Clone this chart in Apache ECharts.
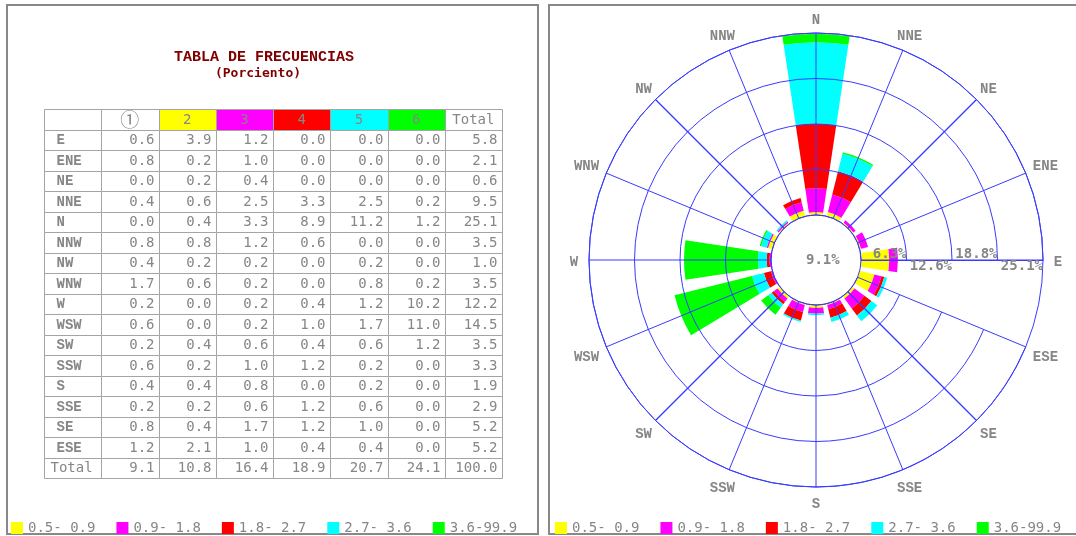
<!DOCTYPE html>
<html>
<head>
<meta charset="utf-8">
<script src="https://cdn.jsdelivr.net/npm/echarts@6/dist/echarts.min.js"></script>
<style>
  html, body { margin: 0; padding: 0; background: #ffffff; }
  #chart { width: 1076px; height: 536px; }
</style>
</head>
<body>
<div id="chart"></div>
<script>
// Wind directions, counter-clockwise from East (table row order)
const directions = ['E', 'ENE', 'NE', 'NNE', 'N', 'NNW', 'NW', 'WNW', 'W', 'WSW', 'SW', 'SSW', 'S', 'SSE', 'SE', 'ESE'];

// Frequency (%) per speed class, one value per direction
const class1 = [0.6, 0.8, 0.0, 0.4, 0.0, 0.8, 0.4, 1.7, 0.2, 0.6, 0.2, 0.6, 0.4, 0.2, 0.8, 1.2];
const class2 = [3.9, 0.2, 0.2, 0.6, 0.4, 0.8, 0.2, 0.6, 0.0, 0.0, 0.4, 0.2, 0.4, 0.2, 0.4, 2.1];
const class3 = [1.2, 1.0, 0.4, 2.5, 3.3, 1.2, 0.2, 0.2, 0.2, 0.2, 0.6, 1.0, 0.8, 0.6, 1.7, 1.0];
const class4 = [0.0, 0.0, 0.0, 3.3, 8.9, 0.6, 0.0, 0.0, 0.4, 1.0, 0.4, 1.2, 0.0, 1.2, 1.2, 0.4];
const class5 = [0.0, 0.0, 0.0, 2.5, 11.2, 0.0, 0.2, 0.8, 1.2, 1.7, 0.6, 0.2, 0.2, 0.6, 1.0, 0.4];
const class6 = [0.0, 0.0, 0.0, 0.2, 1.2, 0.0, 0.0, 0.2, 10.2, 11.0, 1.2, 0.0, 0.0, 0.0, 0.0, 0.0];
const dirTotals = [5.8, 2.1, 0.6, 9.5, 25.1, 3.5, 1.0, 3.5, 12.2, 14.5, 3.5, 3.3, 1.9, 2.9, 5.2, 5.2];
const classTotals = [9.1, 10.8, 16.4, 18.9, 20.7, 24.1, 100.0];

// Headers and labels
const classHeaders = ['①', '2', '3', '4', '5', '6', 'Total'];
const speedClasses = ['0.5- 0.9', '0.9- 1.8', '1.8- 2.7', '2.7- 3.6', '3.6-99.9'];
const ringLabels = ['6.3%', '12.6%', '18.8%', '25.1%'];
const calmLabel = '9.1%';
const roseMax = 25.1;

// Styles
const classColors = ['#ffff00', '#ff00ff', '#ff0000', '#00ffff', '#00ff00'];
const BLUE = '#3a3aff';
const GRAY = '#868686';
const ROSE_CX = 816, ROSE_CY = 260;
const MONO = '"DejaVu Sans Mono", "Liberation Mono", monospace';
const SERIF_MONO = '"Liberation Mono", "DejaVu Sans Mono", monospace';

const classCols = [class1, class2, class3, class4, class5, class6];
const roseCols = [class2, class3, class4, class5, class6];

// Table cells: column 0 = row label, 1..6 = classes, 7 = total; row 0 = header, 17 = totals
const NCOL = 8, NROW = directions.length + 2;
const cells = [];
for (let r = 0; r < NROW; r++) for (let c = 0; c < NCOL; c++) cells.push([c, r]);

function cellText(c, r) {
  if (r === 0) return c === 0 ? '' : classHeaders[c - 1];
  if (r === NROW - 1) return c === 0 ? 'Total' : classTotals[c - 1].toFixed(1);
  if (c === 0) return directions[r - 1];
  if (c === NCOL - 1) return dirTotals[r - 1].toFixed(1);
  return classCols[c - 1][r - 1].toFixed(1);
}

function renderCell(params, api) {
  const c = api.value(0), r = api.value(1);
  const p = api.coord([c, r]);
  const sz = api.size([1, 1]);
  const x0 = Math.round(p[0] - sz[0] / 2) + 0.5;
  const y0 = Math.round(p[1] - sz[1] / 2) + 0.5;
  const w = Math.round(p[0] + sz[0] / 2) - Math.round(p[0] - sz[0] / 2);
  const h = Math.round(p[1] + sz[1] / 2) - Math.round(p[1] - sz[1] / 2);
  const fill = (r === 0 && c >= 2 && c <= 6) ? classColors[c - 2] : '#ffffff';
  let tx, align, font;
  if (r === 0) {
    tx = p[0]; align = 'center';
    font = c === 1 ? '19px "Noto Sans CJK JP", "DejaVu Sans", sans-serif' : '14px ' + MONO;
  } else if (c === 0) {
    tx = x0 + (r === NROW - 1 ? 6 : 12); align = 'left';
    font = r === NROW - 1 ? '14px ' + MONO : 'bold 14px ' + SERIF_MONO;
  } else {
    tx = x0 + w - 5; align = 'right'; font = '14px ' + MONO;
  }
  return {
    type: 'group',
    children: [
      { type: 'rect', shape: { x: x0, y: y0, width: w, height: h },
        style: { fill: fill, stroke: '#a4a4a4', lineWidth: 1 } },
      { type: 'text', style: { text: cellText(c, r), x: tx, y: p[1] + 1, align: align,
        verticalAlign: 'middle', fill: GRAY, font: font } }
    ]
  };
}

// Direction spoke (calm circle to outer ring) plus its compass label
function renderSpoke(params, api) {
  const a = api.value(1);
  const name = directions[a];
  const p0 = api.coord([0, a]);
  const p1 = api.coord([roseMax, a]);
  const cs = params.coordSys;
  const ux = (p1[0] - cs.cx) / cs.r, uy = (p1[1] - cs.cy) / cs.r;
  const extra = Math.max(0, name.length * 4.3 - 6) * Math.abs(ux);
  const lr = cs.r + 15 + extra;
  // 45-degree spokes get a touch more weight so they read as solid blue
  const diagonal = a % 4 === 2;
  return {
    type: 'group',
    children: [
      { type: 'line', shape: { x1: p0[0], y1: p0[1], x2: p1[0], y2: p1[1] },
        style: { stroke: BLUE, lineWidth: diagonal ? 1.3 : 1 } },
      { type: 'text', style: { text: name, x: cs.cx + ux * lr, y: cs.cy + uy * lr + 2,
        align: 'center', verticalAlign: 'middle', fill: GRAY, font: 'bold 14px ' + SERIF_MONO } }
    ]
  };
}

const legendCommon = {
  orient: 'horizontal', top: 521, padding: 0, itemWidth: 12, itemHeight: 12, itemGap: 21,
  icon: 'rect', selectedMode: false, data: speedClasses,
  textStyle: { color: GRAY, fontFamily: MONO, fontSize: 14 }
};

const roseSeries = roseCols.map((vals, i) => ({
  name: speedClasses[i],
  type: 'bar',
  coordinateSystem: 'polar',
  stack: 'rose',
  barWidth: '76%',
  data: vals,
  itemStyle: { color: classColors[i] },
  silent: true,
  z: 2
}));

const option = {
  animation: false,
  backgroundColor: '#ffffff',
  color: classColors,
  graphic: [
    { type: 'rect', shape: { x: 7, y: 5, width: 531, height: 529 },
      style: { fill: 'none', stroke: '#888888', lineWidth: 2 }, silent: true },
    { type: 'rect', shape: { x: 549, y: 5, width: 540, height: 529 },
      style: { fill: 'none', stroke: '#888888', lineWidth: 2 }, silent: true },
    { type: 'text', x: 264, y: 57, silent: true,
      style: { text: 'TABLA DE FRECUENCIAS', align: 'center', verticalAlign: 'middle',
        fill: '#800000', font: 'bold 15px ' + SERIF_MONO } },
    { type: 'text', x: 258, y: 74, silent: true,
      style: { text: '(Porciento)', align: 'center', verticalAlign: 'middle',
        fill: '#800000', font: 'bold 13px ' + MONO } },
    { type: 'text', x: ROSE_CX - 10, y: ROSE_CY, silent: true, z: 20,
      style: { text: calmLabel, align: 'left', verticalAlign: 'middle',
        fill: GRAY, font: 'bold 14px ' + MONO } }
  ],
  legend: [
    Object.assign({ left: 11 }, legendCommon),
    Object.assign({ left: 555 }, legendCommon)
  ],
  grid: { left: 44, top: 109, width: 458, height: 369 },
  xAxis: { type: 'category', data: [0, 1, 2, 3, 4, 5, 6, 7], show: false },
  yAxis: { type: 'category', data: Array.from({ length: NROW }, (_, i) => i), inverse: true, show: false },
  polar: { center: [ROSE_CX, ROSE_CY], radius: [45, 227] },
  angleAxis: {
    type: 'category', data: directions, boundaryGap: false,
    startAngle: 0, clockwise: false, z: 10,
    axisLine: { show: true, lineStyle: { color: BLUE, width: 1 } },
    axisTick: { show: false },
    axisLabel: { show: false },
    splitLine: { show: false }
  },
  radiusAxis: {
    type: 'value', min: 0, max: roseMax, interval: roseMax / 4, z: 10,
    axisLine: { show: true, lineStyle: { color: BLUE, width: 1 } },
    axisTick: { show: false },
    splitLine: { show: true, lineStyle: { color: BLUE, width: 1 } },
    axisLabel: {
      margin: 0, align: 'right', verticalAlign: 'middle',
      formatter: (v, i) => i === 0 ? '' : (i % 2 === 1 ? '{up|' : '{dn|') + ringLabels[i - 1] + '}',
      rich: {
        up: { padding: [0, 0, 12, 0], color: GRAY, fontFamily: MONO, fontWeight: 'bold', fontSize: 14 },
        dn: { padding: [12, 0, 0, 0], color: GRAY, fontFamily: MONO, fontWeight: 'bold', fontSize: 14 }
      }
    }
  },
  series: [
    { type: 'custom', coordinateSystem: 'cartesian2d', renderItem: renderCell,
      data: cells, silent: true, z: 1 },
    { type: 'custom', coordinateSystem: 'polar', renderItem: renderSpoke,
      data: directions.map(d => [roseMax, d]), silent: true, z: 9 }
  ].concat(roseSeries)
};

const chart = echarts.init(document.getElementById('chart'), null, { renderer: 'canvas' });
chart.setOption(option);
</script>
</body>
</html>
